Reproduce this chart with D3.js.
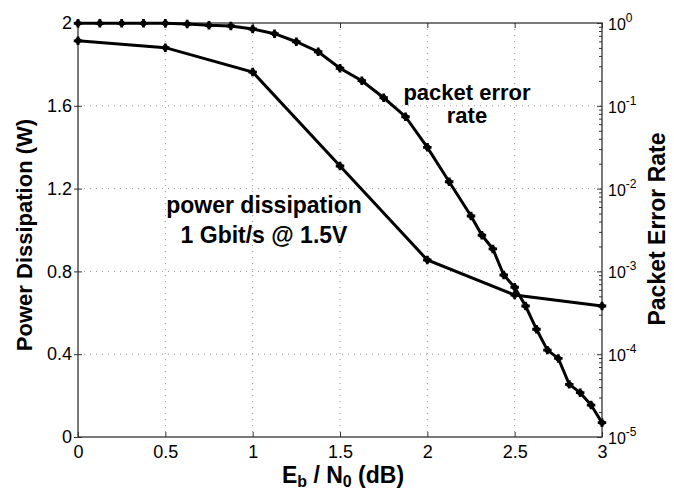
<!DOCTYPE html>
<html>
<head>
<meta charset="utf-8">
<script src="https://cdn.jsdelivr.net/npm/d3@7"></script>
<style>
body { margin: 0; background: #fff; }
text { font-family: "Liberation Sans", Arial, sans-serif; fill: #000; }
</style>
</head>
<body>
<svg width="674" height="491"></svg>
<script>
var svg = d3.select('svg');

// E_b/N_0 (dB) for the power curve
var powerX = [0, 0.5, 1, 1.5, 2, 2.5, 3];
// power dissipation (W)
var powerY = [1.914, 1.881, 1.763, 1.309, 0.855, 0.686, 0.633];

// E_b/N_0 (dB) for the packet error rate curve
var perX = [0, 0.125, 0.25, 0.375, 0.5, 0.625, 0.75, 0.875, 1, 1.125, 1.25, 1.375, 1.5, 1.625, 1.75, 1.875, 2, 2.125, 2.25,
	2.3125, 2.375, 2.4375, 2.5, 2.5625, 2.625, 2.6875, 2.75, 2.8125, 2.875, 2.9375, 3];
var perY = [0.99, 0.99, 0.99, 0.99, 0.99, 0.973, 0.938, 0.92, 0.846, 0.743, 0.594, 0.45, 0.284, 0.201, 0.125, 0.0738, 0.0315, 0.0121, 0.00467,
	0.00273, 0.00187, 9.05e-4, 6.43e-4, 3.82e-4, 2.0e-4, 1.12e-4, 8.9e-5, 4.32e-5, 3.43e-5, 2.43e-5, 1.49e-5];

var xTicks = [0, 0.5, 1, 1.5, 2, 2.5, 3];
var leftTicks = [0, 0.4, 0.8, 1.2, 1.6, 2];
var rightExps = [0, -1, -2, -3, -4, -5];

var mLeft = 78, mRight = 602, mTop = 23, mBottom = 437;

var x = d3.scaleLinear().domain([0, 3]).range([mLeft, mRight]);
var yL = d3.scaleLinear().domain([0, 2]).range([mBottom, mTop]);
var yR = d3.scaleLog().domain([1e-5, 1]).range([mBottom, mTop]);

// grid
var grid = svg.append('g').attr('stroke', '#999').attr('stroke-width', 1).attr('stroke-dasharray', '1,5');
xTicks.slice(1, -1).forEach(function (t) {
	grid.append('line').attr('x1', x(t)).attr('x2', x(t)).attr('y1', mTop).attr('y2', mBottom);
});
leftTicks.slice(1, -1).forEach(function (t) {
	grid.append('line').attr('x1', mLeft).attr('x2', mRight).attr('y1', yL(t)).attr('y2', yL(t));
});

// box
svg.append('rect').attr('x', mLeft).attr('y', mTop).attr('width', mRight - mLeft).attr('height', mBottom - mTop)
	.attr('fill', 'none').attr('stroke', '#333').attr('stroke-width', 1.3);

// axes
var xAxis = d3.axisBottom(x).tickValues(xTicks).tickSize(-5).tickPadding(8).tickFormat(d3.format('~g'));
var gx = svg.append('g').attr('transform', 'translate(0,' + mBottom + ')').call(xAxis);
var gxTop = svg.append('g').attr('transform', 'translate(0,' + mTop + ')')
	.call(d3.axisTop(x).tickValues(xTicks).tickSize(-5).tickFormat(''));

var gy = svg.append('g').attr('transform', 'translate(' + mLeft + ',0)')
	.call(d3.axisLeft(yL).tickValues(leftTicks).tickSize(5).tickPadding(1).tickFormat(d3.format('~g')));

var minorTicks = [];
for (var e = -5; e < 0; e++) for (var m = 2; m < 10; m++) minorTicks.push(m * Math.pow(10, e));
var gyr = svg.append('g').attr('transform', 'translate(' + mRight + ',0)')
	.call(d3.axisRight(yR).tickValues(minorTicks).tickSize(-3).tickFormat(''));
var gyr2 = svg.append('g').attr('transform', 'translate(' + mRight + ',0)')
	.call(d3.axisRight(yR).tickValues(rightExps.map(function (e) { return Math.pow(10, e); })).tickSize(-5).tickFormat(''));

[gx, gxTop, gy, gyr, gyr2].forEach(function (g) {
	g.select('.domain').remove();
	g.selectAll('line').attr('stroke', '#333');
	g.selectAll('text').attr('font-size', 18).attr('font-family', '"Liberation Sans", Arial, sans-serif');
});
gy.selectAll('.tick line').attr('x2', 4).attr('x1', -4);

// right tick labels 10^n
rightExps.forEach(function (e) {
	var t = svg.append('text').attr('x', mRight + 6).attr('y', yR(Math.pow(10, e)) + 7).attr('font-size', 16);
	t.append('tspan').text('10');
	t.append('tspan').attr('dy', -8).attr('font-size', 12).text(e);
});

// axis labels
var xl = svg.append('text').attr('x', 343).attr('y', 483).attr('text-anchor', 'middle')
	.attr('font-size', 23).attr('font-weight', 'bold');
xl.append('tspan').text('E');
xl.append('tspan').attr('font-size', 16).attr('dy', 4).text('b');
xl.append('tspan').attr('dy', -4).text(' / N');
xl.append('tspan').attr('font-size', 16).attr('dy', 4).text('0');
xl.append('tspan').attr('dy', -4).text(' (dB)');

svg.append('text').attr('transform', 'translate(32,235) rotate(-90)').attr('text-anchor', 'middle')
	.attr('font-size', 22).attr('font-weight', 'bold').text('Power Dissipation (W)');
svg.append('text').attr('transform', 'translate(665,229) rotate(-90)').attr('text-anchor', 'middle')
	.attr('font-size', 23).attr('font-weight', 'bold').text('Packet Error Rate');

// curves
var powerData = powerX.map(function (d, i) { return [d, powerY[i]]; });
var perData = perX.map(function (d, i) { return [d, perY[i]]; });

var lineL = d3.line().x(function (d) { return x(d[0]); }).y(function (d) { return yL(d[1]); });
var lineR = d3.line().x(function (d) { return x(d[0]); }).y(function (d) { return yR(d[1]); });

svg.append('path').datum(powerData).attr('d', lineL).attr('fill', 'none').attr('stroke', '#000').attr('stroke-width', 3);
svg.append('path').datum(perData).attr('d', lineR).attr('fill', 'none').attr('stroke', '#000').attr('stroke-width', 3);

var marker = d3.symbol().type(d3.symbolCross).size(40);
function drawMarkers(data, yScale) {
	var g = svg.append('g');
	g.selectAll('path').data(data).enter().append('path')
		.attr('d', marker)
		.attr('transform', function (d) { return 'translate(' + x(d[0]) + ',' + yScale(d[1]) + ')'; })
		.attr('fill', '#000');
	g.selectAll('circle').data(data).enter().append('circle')
		.attr('cx', function (d) { return x(d[0]); })
		.attr('cy', function (d) { return yScale(d[1]); })
		.attr('r', 3).attr('fill', '#000');
}
drawMarkers(powerData, yL);
drawMarkers(perData, yR);

// annotations
svg.append('text').attr('x', 467).attr('y', 100).attr('text-anchor', 'middle')
	.attr('font-size', 22).attr('font-weight', 'bold').text('packet error');
svg.append('text').attr('x', 467).attr('y', 123).attr('text-anchor', 'middle')
	.attr('font-size', 22).attr('font-weight', 'bold').text('rate');
svg.append('text').attr('x', 264).attr('y', 213).attr('text-anchor', 'middle')
	.attr('font-size', 23).attr('font-weight', 'bold').text('power dissipation');
svg.append('text').attr('x', 264).attr('y', 243).attr('text-anchor', 'middle')
	.attr('font-size', 23).attr('font-weight', 'bold').text('1 Gbit/s @ 1.5V');
</script>
</body>
</html>
